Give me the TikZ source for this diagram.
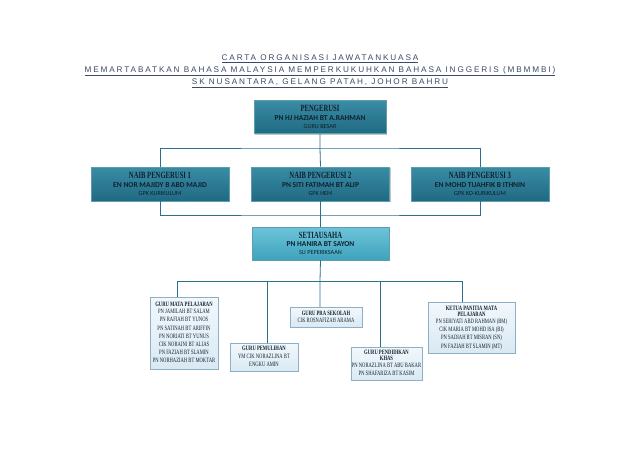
\documentclass[tikz,border=0pt]{standalone}
\usepackage{fontspec}
\setmainfont{Liberation Serif}
\newfontfamily\titlefont[LetterSpace=23]{Liberation Sans}
\newfontfamily\namefont{Carlito}
\usetikzlibrary{shadows}
\definecolor{OrgInk}{HTML}{10202E}
\definecolor{OrgTitle}{HTML}{3C4A68}
\definecolor{OrgLine}{HTML}{2C6F8E}
\definecolor{TopHi}{HTML}{3A8CA5}
\definecolor{TopLo}{HTML}{1F6A82}
\definecolor{TopEdge}{HTML}{5E9CB0}
\definecolor{SecHi}{HTML}{6CC4DA}
\definecolor{SecLo}{HTML}{3FA2BC}
\definecolor{StaffHi}{HTML}{F2F8FC}
\definecolor{StaffLo}{HTML}{D9E9F3}
\definecolor{StaffEdge}{HTML}{8DB0C6}
\newcommand\boxhead[1]{{\rmfamily\bfseries\fontsize{9.5}{9}\selectfont\scalebox{0.7}[1]{#1}}}
\newcommand\boxname{\namefont\bfseries\fontsize{7.5}{8.5}\selectfont}
\newcommand\boxrole{\namefont\mdseries\fontsize{6.2}{6.5}\selectfont}
\newcommand\listhead{\bfseries\fontsize{6.6}{7}\selectfont}
\newcommand\listname{\fontsize{6.6}{8.2}\selectfont}
\newcommand\condense[1]{\scalebox{0.7}[1]{\begin{tabular}{@{}c@{}}#1\end{tabular}}}
\tikzset{
  orgbox/.style={rectangle,align=center,inner sep=1pt,text=OrgInk,
    drop shadow={shadow xshift=1.2pt,shadow yshift=-1.4pt,opacity=.45}},
  topbox/.style={orgbox,font=\boxname,draw=TopEdge,line width=.6pt,top color=TopHi,bottom color=TopLo},
  secbox/.style={orgbox,font=\boxname,draw=TopEdge,line width=.6pt,top color=SecHi,bottom color=SecLo},
  staffbox/.style={orgbox,font=\listname,draw=StaffEdge,line width=.5pt,top color=StaffHi,bottom color=StaffLo,
    drop shadow={shadow xshift=1pt,shadow yshift=-1pt,opacity=.25}},
  link/.style={draw=OrgLine,line width=.8pt}
}
\begin{document}
\begin{tikzpicture}[x=1pt,y=-1pt]
  \useasboundingbox[fill=white] (0,0) rectangle (638,452);
  % heading
  \node[text=OrgTitle,align=center,font=\titlefont\fontsize{8.2}{12}\selectfont] (title) at (320,71)
    {\underline{CARTA ORGANISASI JAWATANKUASA}\\
     \underline{MEMARTABATKAN BAHASA MALAYSIA MEMPERKUKUHKAN BAHASA INGGERIS (MBMMBI)}\\
     \underline{SK NUSANTARA, GELANG PATAH, JOHOR BAHRU}};
  % main committee
  \node[topbox,minimum width=132,minimum height=33] (pengerusi) at (320,117)
    {\boxhead{PENGERUSI}\\ PN HJ HAZIAH BT A.RAHMAN\\[-0.5pt] \boxrole GURU BESAR};
  \node[topbox,minimum width=138,minimum height=34] (naibA) at (160,184)
    {\boxhead{NAIB PENGERUSI 1}\\ EN NOR MAJIDY B ABD MAJID\\[-0.5pt] \boxrole GPK KURIKULUM};
  \node[topbox,minimum width=138,minimum height=34] (naibB) at (320.5,184)
    {\boxhead{NAIB PENGERUSI 2}\\ PN SITI FATIMAH BT ALIP\\[-0.5pt] \boxrole GPK HEM};
  \node[topbox,minimum width=138,minimum height=34] (naibC) at (480,184)
    {\boxhead{NAIB PENGERUSI 3}\\ EN MOHD TUAHFIK B ITHNIN\\[-0.5pt] \boxrole GPK KO-KURIKULUM};
  \node[secbox,minimum width=137,minimum height=33] (setiausaha) at (320.5,243.5)
    {\boxhead{SETIAUSAHA}\\ PN HANIRA BT SAYON\\[-0.5pt] \boxrole SU PEPERIKSAAN};
  % staff
  \node[staffbox,minimum width=68,minimum height=72] (mapel) at (184,333)
    {\condense{\listhead GURU MATA PELAJARAN\\[-1pt] PN JAMILAH BT SALAM\\ PN RAFIAH BT YUNOS\\
     PN SATINAH BT ARIFFIN\\ PN NORIATI BT YUNUS\\ CIK NORAINI BT ALIAS\\
     PN FAZIAH BT SLAMIN\\ PN NORHAZIAH BT MOKTAR}};
  \node[staffbox,minimum width=68,minimum height=28] (pemulihan) at (264,357)
    {\condense{\listhead GURU PEMULIHAN\\[-1pt] YM CIK NORAZLINA BT\\ ENGKU AMIN}};
  \node[staffbox,minimum width=72,minimum height=20] (prasekolah) at (326,317)
    {\condense{\listhead GURU PRA SEKOLAH\\[-1pt] CIK ROSNAFIZAH ARAMA}};
  \node[staffbox,minimum width=67,minimum height=33] (khas) at (386.5,363.5)
    {\condense{\listhead GURU PENDIDIKAN\\[-2pt] \listhead KHAS\\[-1pt] PN NORAZLINA BT ABU BAKAR\\ PN SHAFARIZA BT KASIM}};
  \node[staffbox,minimum width=87,minimum height=51] (panitia) at (471.5,327.5)
    {\condense{\listhead KETUA PANITIA MATA\\[-2pt] \listhead PELAJARAN\\[-1pt] PN SERIYATI ABD RAHMAN (BM)\\
     CIK MARIA BT MOHD ISA (BI)\\ PN SADIAH BT MISRAN (SN)\\ PN FAZIAH BT SLAMIN (MT)}};
  % connectors
  \coordinate (busA) at (320,148);
  \coordinate (busB) at (320,215);
  \coordinate (busC) at (320,281);
  \draw[link] (pengerusi.south) -- (busA) -- (naibB.north);
  \draw[link] (naibA.north) |- (busA) -| (naibC.north);
  \draw[link] (naibA.south) |- (busB) -| (naibC.south);
  \draw[link] (naibB.south) -- (setiausaha.north);
  \draw[link] (setiausaha.south) -- (busC) -- (prasekolah.north -| busC);
  \coordinate (tapA) at (177,281);
  \coordinate (tapB) at (267,281);
  \coordinate (tapD) at (380,281);
  \coordinate (tapE) at (462,281);
  \draw[link] (tapA) -- (tapE);
  \draw[link] (tapA) -- (tapA |- mapel.north);
  \draw[link] (tapB) -- (tapB |- pemulihan.north);
  \draw[link] (tapD) -- (tapD |- khas.north);
  \draw[link] (tapE) -- (tapE |- panitia.north);
\end{tikzpicture}
\end{document}
